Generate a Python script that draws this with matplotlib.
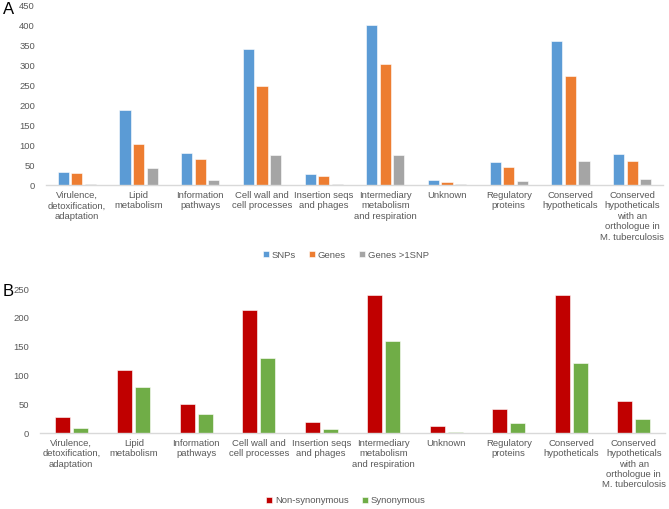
import matplotlib
matplotlib.use("Agg")
import matplotlib.pyplot as plt
import numpy as np

plt.rcParams['font.family'] = ['Liberation Sans', 'DejaVu Sans']

categories = ["Virulence,\ndetoxification,\nadaptation", "Lipid\nmetabolism",
              "Information\npathways", "Cell wall and\ncell processes",
              "Insertion seqs\nand phages", "Intermediary\nmetabolism\nand respiration",
              "Unknown", "Regulatory\nproteins", "Conserved\nhypotheticals",
              "Conserved\nhypotheticals\nwith an\northologue in\nM. tuberculosis"]

snps = [33, 190, 82, 341, 29, 402, 14, 58, 362, 79]
genes = [31, 103, 66, 248, 23, 303, 9, 47, 274, 62]
genes_multi = [4, 44, 14, 77, 4, 76, 4, 10, 62, 17]

non_syn = [28, 109, 51, 213, 20, 240, 12, 42, 240, 56]
syn = [9, 80, 34, 130, 7, 160, 3, 17, 121, 25]

grey_txt = "#595959"
axis_col = "#D9D9D9"

fig = plt.figure(figsize=(6.69, 5.09), dpi=100)
axA = fig.add_axes([0.0688, 0.6356, 0.9222, 0.3532])
axB = fig.add_axes([0.0598, 0.1487, 0.9342, 0.2835])

x = np.arange(len(categories))


def style(ax, ymax, step):
    for s in ["top", "right", "left"]:
        ax.spines[s].set_visible(False)
    ax.spines["bottom"].set_color(axis_col)
    ax.spines["bottom"].set_linewidth(1)
    ax.set_xlim(-0.5, len(categories) - 0.5)
    ax.set_ylim(0, ymax)
    ax.set_yticks(np.arange(0, ymax + 1, step))
    ax.set_xticks(x)
    ax.set_xticklabels(categories, fontsize=6.8, color=grey_txt, linespacing=1.2)
    ax.tick_params(axis="both", length=0, colors=grey_txt, labelsize=6.8)
    ax.tick_params(axis="y", pad=8)
    ax.tick_params(axis="x", pad=4)


# panel A
w = 0.18
off = 0.22
axA.bar(x - off, snps, w, color="#5B9BD5", edgecolor="white", linewidth=0.4, label="SNPs")
axA.bar(x, genes, w, color="#ED7D31", edgecolor="white", linewidth=0.4, label="Genes")
axA.bar(x + off, genes_multi, w, color="#A5A5A5", edgecolor="white", linewidth=0.4, label="Genes >1SNP")
style(axA, 450, 50)

# panel B
w2 = 0.24
off2 = 0.145
axB.bar(x - off2, non_syn, w2, color="#C00000", edgecolor="white", linewidth=0.4, label="Non-synonymous")
axB.bar(x + off2, syn, w2, color="#70AD47", edgecolor="white", linewidth=0.4, label="Synonymous")
style(axB, 250, 50)

for ax, y in [(axA, 0.499), (axB, 0.016)]:
    leg = fig.legend(*ax.get_legend_handles_labels(), loc="center", bbox_to_anchor=(0.517, y),
                     ncol=3, frameon=False, fontsize=6.8, handlelength=0.6, handleheight=0.6,
                     handletextpad=0.3, columnspacing=1.4)
    for t in leg.get_texts():
        t.set_color(grey_txt)

fig.text(0.004, 0.982, "A", fontsize=12, va="center", ha="left")
fig.text(0.004, 0.428, "B", fontsize=12, va="center", ha="left")

fig.savefig("out.png", dpi=100)
